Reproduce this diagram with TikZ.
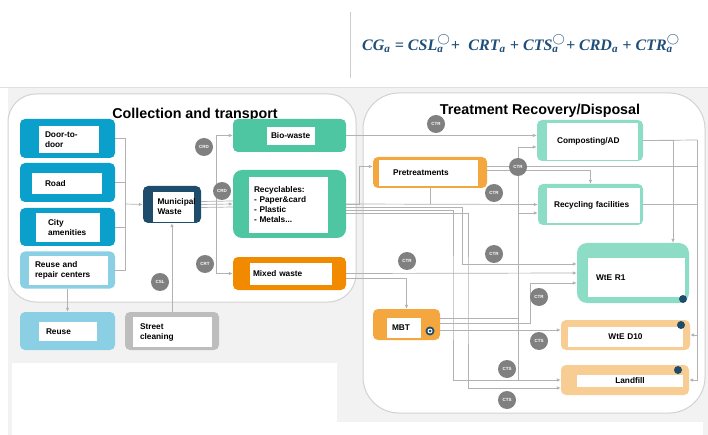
\documentclass[tikz,border=0pt]{standalone}
\usepackage{amsmath}
\usepackage{graphicx}
\usepackage{fontspec}
\setmainfont{Liberation Sans}
\newfontfamily\eqfont{Liberation Serif}
\usetikzlibrary{arrows.meta, calc}

\definecolor{cblue}{HTML}{0BA0CC}
\definecolor{clight}{HTML}{8ACFE3}
\definecolor{cnavy}{HTML}{1E4D6B}
\definecolor{cteal}{HTML}{4DC6A1}
\definecolor{cmint}{HTML}{8CDCC6}
\definecolor{corange}{HTML}{F28A00}
\definecolor{corangeb}{HTML}{F4A63F}
\definecolor{cpeach}{HTML}{F8CD93}
\definecolor{cstreet}{HTML}{BDBDBD}
\definecolor{ccirc}{HTML}{808080}
\definecolor{cbg}{HTML}{F2F2F2}
\definecolor{cform}{HTML}{1F4E79}

\newcommand{\costterm}[2]{#1$^{\bigcirc}_{\text{#2}}$}

\begin{document}
\begin{tikzpicture}[x=1pt, y=-1pt,
        bin/.style={rectangle, rounded corners=5pt, inner sep=0pt},
        card/.style={rectangle, fill=white, inner sep=0pt, align=left, font=\bfseries\fontsize{8.3}{10}\selectfont},
        costdot/.style={circle, fill=ccirc, minimum size=18pt, inner sep=0pt, text=white, font=\bfseries\fontsize{4.5}{5}\selectfont},
        region/.style={fill=white, draw=gray!35, line width=1pt},
        heading/.style={font=\bfseries\fontsize{14.3}{16}\selectfont},
        wire/.style={draw=gray!60, line width=0.7pt},
        arrow/.style={wire, -{Latex[length=4pt, width=3.5pt]}}
    ]
    \useasboundingbox (0,0) rectangle (708,435);

    % page background
    \fill[cbg] (8,88) rectangle (708,435);
    \fill[white] (12,363) rectangle (337,435);
    \fill[white] (337,422) rectangle (703,435);
    \draw[gray!25, line width=1pt] (0,88) -- (708,88);
    \draw[gray!40] (350,12) -- (350,78);
    \node[text=cform, anchor=west, inner sep=0pt] (cg) at (362,44) {\resizebox{318pt}{!}{\eqfont\bfseries\itshape CG$_{\text{a}}$ = \costterm{CSL}{a}+\; CRT$_{\text{a}}$ + \costterm{CTS}{a}+ CRD$_{\text{a}}$ + \costterm{CTR}{a}}};

    % the two stages
    \draw[region, rounded corners=28pt] (8,94) rectangle (356,302);
    \draw[region, rounded corners=36pt] (363,93) rectangle (705,413);
    \node[heading] (collect) at (195,115) {Collection and transport};
    \node[heading] (treat) at (540,111) {Treatment Recovery/Disposal};

    % collection
    \node[bin, fill=cblue, minimum width=95pt, minimum height=39pt] (door) at (67.5,138.5) {};
    \node[card, minimum width=60pt, minimum height=27pt, text width=48pt] (door-t) at (69,139.5) {Door-to-\\door};
    \node[bin, fill=cblue, minimum width=95pt, minimum height=39pt] (road) at (67.5,182.5) {};
    \node[card, minimum width=70pt, minimum height=21pt, text width=44pt] (road-t) at (67,183.5) {Road};
    \node[bin, fill=cblue, minimum width=95pt, minimum height=38pt] (city) at (67.5,227) {};
    \node[card, minimum width=64pt, minimum height=29pt, text width=40pt] (city-t) at (68,227.5) {City\\amenities};
    \node[bin, fill=clight, minimum width=95pt, minimum height=37pt] (repair) at (67.5,270) {};
    \node[card, minimum width=79pt, minimum height=29pt, text width=67pt] (repair-t) at (68.5,270.5) {Reuse and\\repair centers};
    \node[bin, fill=clight, minimum width=95pt, minimum height=38pt] (reuse) at (67.5,331) {};
    \node[card, minimum width=58pt, minimum height=19pt, text width=44pt] (reuse-t) at (68,331.5) {Reuse};
    \node[bin, fill=cstreet, minimum width=94pt, minimum height=38pt] (street) at (172,331) {};
    \node[card, minimum width=79pt, minimum height=30pt, text width=65pt] (street-t) at (172.5,332) {Street\\cleaning};
    \node[bin, fill=cnavy, minimum width=58pt, minimum height=37pt] (muni) at (172,204.5) {};
    \node[card, minimum width=41pt, minimum height=30pt, text width=31pt] (muni-t) at (173,207) {Municipal\\Waste};

    \node[bin, fill=cteal, minimum width=113pt, minimum height=33pt] (bio) at (289.5,135.5) {};
    \node[card, minimum width=48pt, minimum height=18pt, text width=40pt] (bio-t) at (291,136) {Bio-waste};
    \node[bin, fill=cteal, minimum width=113pt, minimum height=68pt, rounded corners=9pt] (recy) at (289.5,204) {};
    \node[card, minimum width=79pt, minimum height=56pt, text width=69pt] (recy-t) at (288.5,205) {Recyclables:\\- Paper\&card\\- Plastic\\- Metals...};
    \node[bin, fill=corange, minimum width=113pt, minimum height=33pt] (mixed) at (289.5,273.5) {};
    \node[card, minimum width=82pt, minimum height=22pt, text width=76pt] (mixed-t) at (291,274) {Mixed waste};

    % treatment
    \node[bin, fill=corangeb, minimum width=114pt, minimum height=31pt] (pre) at (430,172.5) {};
    \node[card, minimum width=99pt, minimum height=26pt, text width=71pt] (pre-t) at (428.5,173) {Pretreatments};
    \node[bin, fill=cmint, minimum width=106pt, minimum height=41pt] (comp) at (590,140.5) {};
    \node[card, minimum width=91pt, minimum height=37pt, text width=71pt] (comp-t) at (592.5,141.5) {Composting/AD};
    \node[bin, fill=cmint, minimum width=105pt, minimum height=41pt] (recf) at (590.5,204.5) {};
    \node[card, minimum width=93pt, minimum height=35pt, text width=79pt] (recf-t) at (593.5,205.5) {Recycling facilities};
    \node[bin, fill=cmint, minimum width=112pt, minimum height=60pt, rounded corners=10pt] (wte1) at (633,273) {};
    \node[card, minimum width=97pt, minimum height=39pt, text width=81pt] (wte1-t) at (636.5,277.5) {WtE R1};
    \node[bin, fill=corangeb, minimum width=67pt, minimum height=31pt] (mbt) at (406.5,324.5) {};
    \node[card, minimum width=34pt, minimum height=20pt, text width=24pt] (mbt-t) at (404,328) {MBT};
    \node[bin, fill=cpeach, minimum width=129pt, minimum height=30pt] (d10) at (625.5,335) {};
    \node[card, align=center, minimum width=115pt, minimum height=20pt, text width=115pt] (d10-t) at (625.5,337) {WtE D10};
    \node[bin, fill=cpeach, minimum width=128pt, minimum height=30pt] (land) at (625,380) {};
    \node[card, align=center, minimum width=106pt, minimum height=12pt, text width=106pt] (land-t) at (630,381) {Landfill};

    % junctions
    \coordinate (lbus) at (125,204);
    \coordinate (split) at (216,204);
    \coordinate (rj1) at (359,204);
    \coordinate (rj2) at (462,207);
    \coordinate (lj1) at (453,300);
    \coordinate (lj2) at (468,300);
    \coordinate (vj) at (518,318);
    \coordinate (vk) at (530,323);
    \coordinate (rtop) at (697,140);

    % collection flows
    \draw[wire] (door.east) -| (lbus);
    \draw[wire] (road.east) -| (lbus);
    \draw[wire] (city.east) -| (lbus);
    \draw[wire] (repair.east) -| (lbus);
    \draw[arrow] (lbus) -- (muni.west);
    \draw[arrow] (repair.south) -- (reuse.north);
    \draw[arrow] (street.north) -- (muni.south);
    \draw[arrow] (muni.east) -- (recy.west);
    \draw[wire] ([yshift=3pt]muni.east) -- ([yshift=3pt]recy.west);
    \draw[wire] ([yshift=-3pt]muni.east) -- ([yshift=-3pt]recy.west);
    \draw[arrow] (split) |- (bio.west);
    \draw[arrow] (split) |- (mixed.west);

    % treatment flows
    \draw[arrow] (recy.east) -- (rj1) |- ([yshift=6pt]pre.west);
    \draw[arrow] (recy.east) -- (recf.west);
    \draw[arrow] ([yshift=-3pt]recy.east) -- (rj2) |- ([yshift=9pt]wte1.west);
    \draw[arrow] ([yshift=-6pt]recy.east) -| (lj1) |- (land.west);
    \draw[arrow] ([yshift=-9pt]recy.east) -| (lj2) |- ([yshift=-8pt]land.west);
    \draw[wire] (pre.south) -- (pre.south |- recy.east);
    \draw[arrow] (bio.east) -- ([yshift=5pt]comp.west);
    \draw[arrow] ([yshift=2pt]pre.east) -| (recf.north);
    \draw[wire] ([yshift=6pt]pre.east) -| (rtop);
    \draw[wire] (comp.east) -- (rtop);
    \draw[wire] (recf.east) -| (rtop);
    \draw[arrow] (rtop) |- (d10.east);
    \draw[arrow] (rtop) |- (land.east);
    \draw[arrow] (comp.east) -| ([xshift=40pt]wte1.north);
    \draw[arrow] ([yshift=-5pt]mixed.east) -| (mbt.north);
    \draw[arrow] (mixed.east) -- (wte1.west);
    \draw[arrow] ([yshift=6.5pt]mbt.east) -- (vj) |- ([yshift=-6.5pt]comp.west);
    \draw[arrow] (vj) |- ([yshift=-8.5pt]recf.west);
    \draw[wire] (vj) -- (vj |- land.west);
    \draw[arrow] ([yshift=1.5pt]mbt.east) -| (vk) |- ([yshift=-10pt]wte1.west);
    \draw[arrow] ([yshift=-5.5pt]mbt.east) -- ([yshift=5pt]d10.west);

    % cost markers
    \node[costdot] (crd1) at (204,147) {CRD};
    \node[costdot] (crd2) at (222,191) {CRD};
    \node[costdot] (crt) at (205,264) {CRT};
    \node[costdot] (csl) at (160,282) {CSL};
    \node[costdot] (ctr1) at (436,124) {CTR};
    \node[costdot] (ctr2) at (518,167) {CTR};
    \node[costdot] (ctr3) at (494,193) {CTR};
    \node[costdot] (ctr4) at (494,254) {CTR};
    \node[costdot] (ctr5) at (407,261) {CTR};
    \node[costdot] (ctr6) at (539,297) {CTR};
    \node[costdot] (cts1) at (539,341) {CTS};
    \node[costdot] (cts2) at (507,369) {CTS};
    \node[costdot] (cts3) at (507,400) {CTS};

    % small markers
    \fill[cnavy] (683,299) circle (4pt);
    \fill[cnavy] (681,325) circle (4pt);
    \fill[cnavy] (678,370) circle (4pt);
    \fill[cnavy] (430,331) circle (4.5pt);
    \fill[white] (430,331) circle (2.5pt);
    \fill[cnavy] (430,331) circle (1.5pt);
\end{tikzpicture}
\end{document}
